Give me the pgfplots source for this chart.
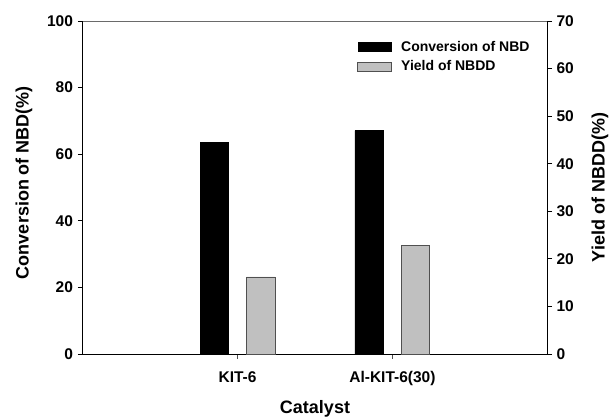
\documentclass[border=0pt]{standalone}
\usepackage{fontspec}
\setmainfont{Liberation Sans}
\usepackage{pgfplots}
\pgfplotsset{compat=1.18}
\definecolor{bargray}{HTML}{C0C0C0}
\definecolor{edgegray}{HTML}{505050}
\definecolor{topgray}{HTML}{6A6A6A}
\begin{document}
\begin{tikzpicture}
\pgfplotsset{
 common/.style={
  scale only axis, width=464.6pt, height=333pt,
  xmin=0, xmax=3, ymin=0,
  xtick={1,2}, xticklabels={KIT-6, Al-KIT-6(30)},
  ybar, bar width=28.5pt,
  tick align=outside, major tick length=4.7pt,
  tick style={black, line width=0.8pt},
  axis line style={line width=0.8pt},
  ticklabel style={font=\fontsize{15.5}{18}\selectfont\bfseries},
  label style={font=\fontsize{18}{21}\selectfont\bfseries},
  /pgf/number format/assume math mode=true,
  minor tick num=0,
  clip=false,
 }
}
\begin{axis}[common, ymax=100, ytick={0,20,...,100},
  axis y line*=left, axis x line*=bottom,
  ylabel={Conversion of NBD(\%)}, xlabel={Catalyst},
  ylabel style={at={(axis description cs:-0.1263,0.515)}, anchor=center},
  xlabel style={at={(axis description cs:0.5,-0.1772)}, anchor=base},
  x tick style={edgegray, line width=0.8pt},
  xticklabel style={yshift=-9pt},
  yticklabel style={xshift=-1.5pt},
]
\addplot[fill=black, draw=black, bar shift=-23.2pt] coordinates {(1,63.5) (2,67.1)};
\draw[topgray, line width=0.8pt] (rel axis cs:0,1) -- (rel axis cs:1,1);
\end{axis}
\begin{axis}[common, ymax=70, ytick={0,10,...,70},
  axis y line*=right, axis x line=none,
  ylabel={Yield of NBDD(\%)},
  ylabel style={at={(axis description cs:1.1134,0.5)}, anchor=center},
  yticklabel style={xshift=1pt},
  legend image code/.code={\draw[#1] (0pt,-4.65pt) rectangle (33.4pt,4.65pt);},
  legend style={at={(axis description cs:0.591,0.946)}, anchor=north west,
    draw=none, fill=none, inner sep=0pt, column sep=7.5pt,
    font=\fontsize{14}{16}\selectfont\bfseries, row sep=4pt},
  legend cell align=left,
]
\addlegendimage{fill=black, draw=black}
\addlegendentry{Conversion of NBD}
\addplot[fill=bargray, draw=edgegray, line width=0.8pt, bar shift=23.2pt] coordinates {(1,16.2) (2,22.85)};
\addlegendentry{Yield of NBDD}
\end{axis}
\pgfresetboundingbox
\path[use as bounding box] (-82.7pt,-63pt) rectangle (527.3pt,354pt);
\end{tikzpicture}
\end{document}
